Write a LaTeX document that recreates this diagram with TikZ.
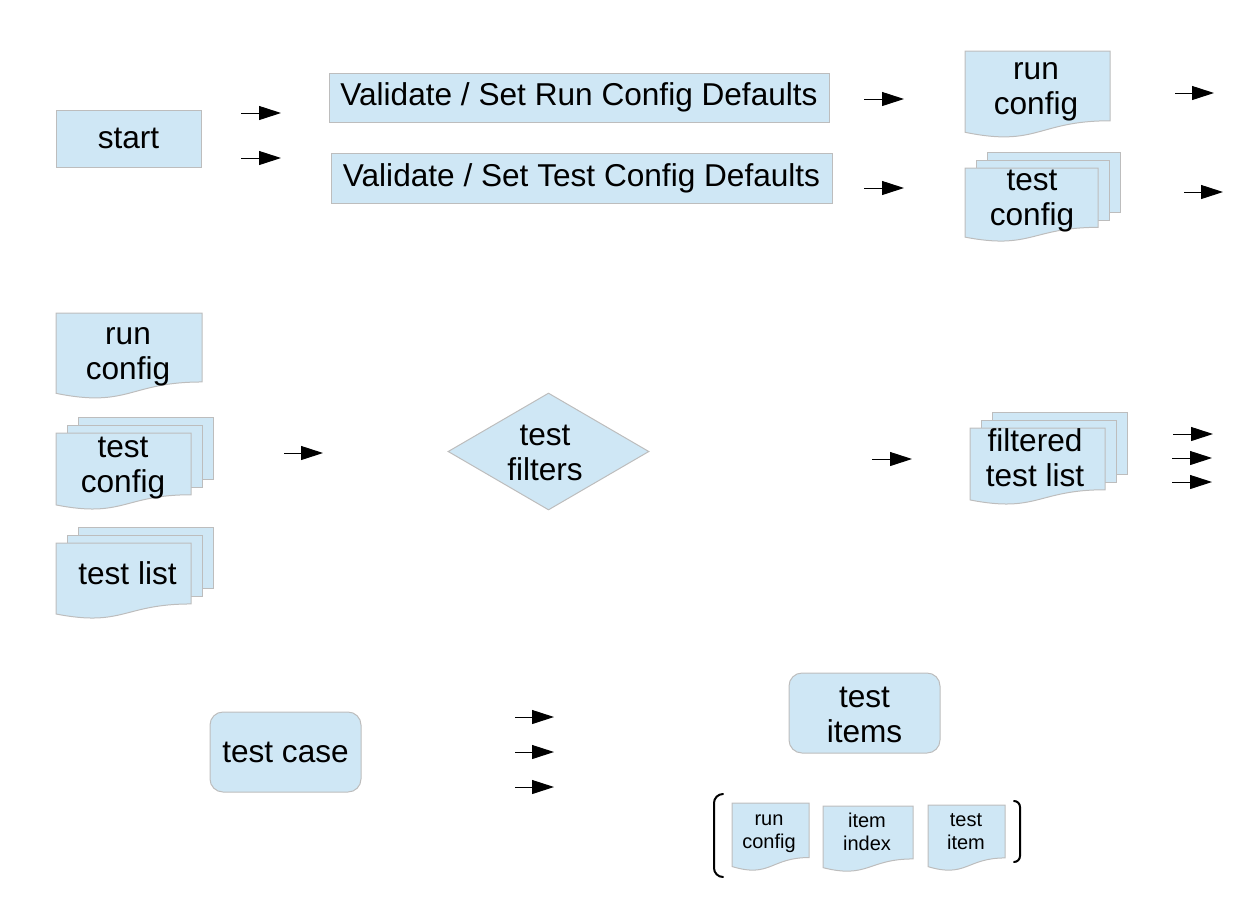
\documentclass[tikz,border=0pt]{standalone}
\usepackage{fontspec}
\setmainfont{Liberation Sans}
\usetikzlibrary{arrows.meta,shapes.geometric}
\definecolor{boxfill}{HTML}{CFE7F5}
\definecolor{boxline}{HTML}{BDBDBD}
\newcommand{\bigfont}{\fontsize{31.6}{35}\selectfont}
\newcommand{\smallfont}{\fontsize{20}{23}\selectfont}
% document shape: x, y(top), w, h
\newcommand{\docpath}[4]{%
  \filldraw[shapestyle] (#1,#2) -- ({#1+#3},#2) -- ({#1+#3},{#2+0.802*#4})
    .. controls ({#1+0.5*#3},{#2+0.802*#4}) and ({#1+0.5*#3},{#2+1.107*#4}) ..
    (#1,{#2+0.934*#4}) -- cycle;}
% multi document: x, y(top of front page), w, h
\newcommand{\multidocpath}[4]{%
  \filldraw[shapestyle] ({#1+22},{#2-16}) rectangle ({#1+22+#3},{#2+0.6*#4});
  \filldraw[shapestyle] ({#1+11},{#2-8}) rectangle ({#1+11+#3},{#2+0.71*#4});
  \docpath{#1}{#2}{#3}{#4}}
\begin{document}
\begin{tikzpicture}[x=1pt,y=-1pt,
  shapestyle/.style={fill=boxfill,draw=boxline,line width=1pt},
  procbox/.style={shapestyle,rectangle,inner sep=0pt,font=\bigfont,align=center},
  roundbox/.style={procbox,rounded corners=13pt},
  biglabel/.style={font=\bigfont,align=center,inner sep=0pt},
  smalllabel/.style={font=\smallfont,align=center,inner sep=0pt},
  arr/.style={line width=1pt,-{Triangle[length=22pt,width=14pt]}},
  brack/.style={line width=2pt,line cap=round}]
\useasboundingbox (0,0) rectangle (1250,906);

% ---------- top row ----------
\node[procbox,minimum width=145pt,minimum height=57pt] (start) at (128.5,138.5) {start};
\node[procbox,minimum width=500pt,minimum height=49pt] (vrun) at (579,97.5) {\raisebox{-1.5pt}{Validate / Set Run Config Defaults}};
\node[procbox,minimum width=501pt,minimum height=50pt] (vtest) at (581.5,178) {\raisebox{-1.5pt}{Validate / Set Test Config Defaults}};

\docpath{965}{51}{145}{87}
\node[biglabel] (rc1) at (1036,91.5) {run\\config};

\multidocpath{965}{168}{133}{74}
\node[biglabel] (tc1) at (1032,201.5) {test\\config};

\coordinate (a1s) at (241,113); \coordinate (a1e) at (281,113);
\coordinate (a2s) at (241,158); \coordinate (a2e) at (281,158);
\coordinate (a3s) at (864,99);  \coordinate (a3e) at (904,99);
\coordinate (a4s) at (864,188); \coordinate (a4e) at (904,188);
\coordinate (a5s) at (1175,93); \coordinate (a5e) at (1214,93);
\coordinate (a6s) at (1184,192); \coordinate (a6e) at (1223,192);
\draw[arr] (a1s) -- (a1e);
\draw[arr] (a2s) -- (a2e);
\draw[arr] (a3s) -- (a3e);
\draw[arr] (a4s) -- (a4e);
\draw[arr] (a5s) -- (a5e);
\draw[arr] (a6s) -- (a6e);

% ---------- middle row ----------
\docpath{56}{313}{146}{86}
\node[biglabel] (rc2) at (128,356.5) {run\\config};

\multidocpath{56}{433}{135}{77}
\node[biglabel] (tc2) at (123,468.5) {test\\config};

\multidocpath{56}{543}{135}{76}
\node[biglabel] (tl) at (127.5,573.5) {test list};

\node[diamond,shapestyle,inner sep=0pt,minimum width=201pt,minimum height=117pt] (filt) at (548.5,451.5) {};
\node[biglabel] (filttxt) at (545,453) {test\\filters};

\multidocpath{970}{428}{135}{77}
\node[biglabel] (ftl) at (1035,457.5) {filtered\\test list};

\coordinate (b1s) at (284,453); \coordinate (b1e) at (323,453);
\coordinate (b2s) at (872,459); \coordinate (b2e) at (912,459);
\coordinate (b3s) at (1173,434); \coordinate (b3e) at (1213,434);
\coordinate (b4s) at (1172,458); \coordinate (b4e) at (1212,458);
\coordinate (b5s) at (1172,482); \coordinate (b5e) at (1212,482);
\draw[arr] (b1s) -- (b1e);
\draw[arr] (b2s) -- (b2e);
\draw[arr] (b3s) -- (b3e);
\draw[arr] (b4s) -- (b4e);
\draw[arr] (b5s) -- (b5e);

% ---------- bottom row ----------
\node[roundbox,minimum width=151pt,minimum height=80pt] (tcase) at (285.5,752) {\raisebox{-1.5pt}{test case}};
\node[shapestyle,rounded corners=13pt,minimum width=151pt,minimum height=80pt] (titems) at (864.5,713) {};
\node[biglabel] (titemstxt) at (864.5,714.5) {test\\items};

\coordinate (c1s) at (515,717); \coordinate (c1e) at (554,717);
\coordinate (c2s) at (515,752); \coordinate (c2e) at (554,752);
\coordinate (c3s) at (515,787); \coordinate (c3e) at (554,787);
\draw[arr] (c1s) -- (c1e);
\draw[arr] (c2s) -- (c2e);
\draw[arr] (c3s) -- (c3e);

\docpath{732}{803}{77}{68}
\node[smalllabel] (src) at (769,834) {run\\config};
\docpath{823}{806}{90}{66}
\node[smalllabel] (sii) at (867,832) {item\\index};
\docpath{928}{805}{77}{66}
\node[smalllabel] (sti) at (966,832) {test\\item};

\draw[brack,rounded corners=9pt] (723,794) -- (714,794) -- (714,877) -- (723,877);
\draw[brack,rounded corners=6pt] (1014,801) -- (1020,801) -- (1020,862) -- (1014,862);
\end{tikzpicture}
\end{document}
